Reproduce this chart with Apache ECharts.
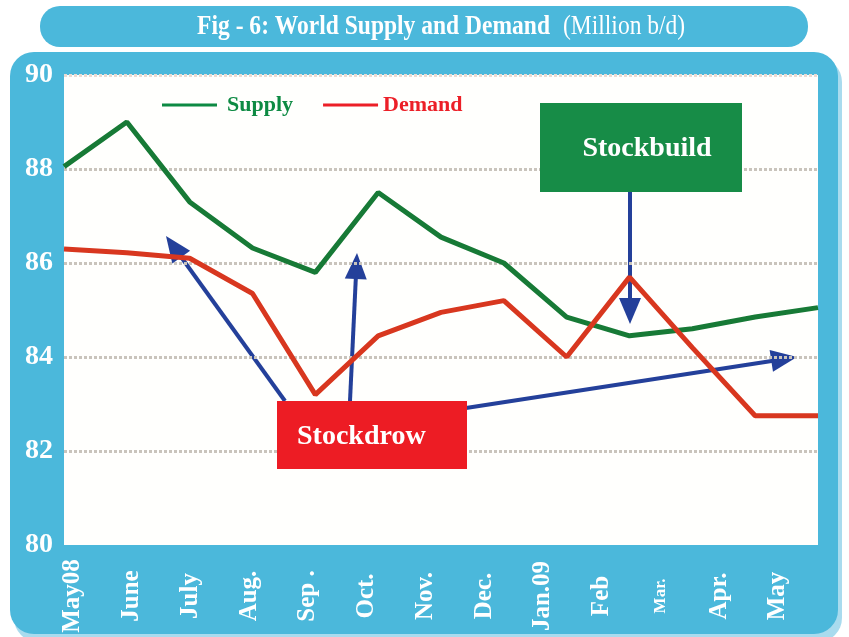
<!DOCTYPE html>
<html>
<head>
<meta charset="utf-8">
<script src="https://cdn.jsdelivr.net/npm/echarts@6/dist/echarts.min.js"></script>
<style>
body { margin: 0; background: #fff; }
#main { width: 849px; height: 637px; }
</style>
</head>
<body>
<div id="main"></div>
<script>
// month labels, values in million b/d
var months = ['May08', 'June', 'July', 'Aug.', 'Sep .', 'Oct.', 'Nov.', 'Dec.', 'Jan.09', 'Feb', 'Mar.', 'Apr.', 'May'];
var supply = [88.05, 89.0, 87.3, 86.32, 85.8, 87.5, 86.55, 86.0, 84.85, 84.45, 84.6, 84.85, 85.05];
var demand = [86.3, 86.22, 86.1, 85.35, 83.2, 84.45, 84.95, 85.2, 84.0, 85.7, 84.2, 82.75, 82.75];

var blue = '#4bb8db';
var arrowBlue = '#24409a';
var serif = '"Liberation Serif", "DejaVu Serif", serif';

function arrow(x1, y1, x2, y2) {
    var dx = x2 - x1, dy = y2 - y1;
    var len = Math.sqrt(dx * dx + dy * dy);
    var ux = dx / len, uy = dy / len;
    var hl = 26, hw = 11;
    var bx = x2 - ux * hl, by = y2 - uy * hl;
    return {
        type: 'group',
        z: 49,
        children: [{
            type: 'line',
            shape: { x1: x1, y1: y1, x2: bx + ux * 2, y2: by + uy * 2 },
            style: { stroke: arrowBlue, lineWidth: 4 }
        }, {
            type: 'polygon',
            shape: { points: [[x2, y2], [bx - uy * hw, by + ux * hw], [bx + uy * hw, by - ux * hw]] },
            style: { fill: arrowBlue }
        }]
    };
}

var chart = echarts.init(document.getElementById('main'));
var option = {
    backgroundColor: '#fff',
    animation: false,
    graphic: [
        // frame and title pill
        { type: 'rect', z: -10, shape: { x: 14, y: 58, width: 828, height: 584, r: 24 }, style: { fill: '#a9dbee' } },
        { type: 'rect', z: -9, shape: { x: 10, y: 52, width: 828, height: 582, r: 24 }, style: { fill: blue } },
        { type: 'rect', z: -9, shape: { x: 40, y: 6, width: 768, height: 41, r: 20 }, style: { fill: blue } },
        { type: 'text', x: 550, y: 27, scaleX: 0.84, style: { text: 'Fig - 6: World Supply and Demand', fill: '#fff', font: 'bold 28px ' + serif, align: 'right', verticalAlign: 'middle' } },
        { type: 'text', x: 563, y: 27, scaleX: 0.84, style: { text: '(Million b/d)', fill: '#fff', font: '28px ' + serif, align: 'left', verticalAlign: 'middle' } },
        // annotation boxes
        { type: 'rect', z: 50, shape: { x: 540, y: 103, width: 202, height: 89 }, style: { fill: '#178c47' } },
        { type: 'text', z: 51, x: 647, y: 149, style: { text: 'Stockbuild', fill: '#fff', font: 'bold 28px ' + serif, align: 'center', verticalAlign: 'middle' } },
        { type: 'rect', z: 50, shape: { x: 277, y: 401, width: 190, height: 68 }, style: { fill: '#ed1c24' } },
        { type: 'text', z: 51, x: 297, y: 437, style: { text: 'Stockdrow', fill: '#fff', font: 'bold 28px ' + serif, align: 'left', verticalAlign: 'middle' } },
        arrow(285, 401, 166, 236),
        arrow(350, 401, 357, 253),
        arrow(466, 408, 797, 357),
        arrow(630, 191, 630, 324)
    ],
    legend: {
        left: 157,
        top: 89,
        icon: 'rect',
        itemWidth: 55,
        itemHeight: 3,
        itemGap: 30,
        textStyle: { fontFamily: serif, fontWeight: 'bold', fontSize: 22 },
        data: [
            { name: 'Supply', itemStyle: { color: '#0d8a43' }, textStyle: { color: '#0d8a43', padding: [0, 0, 0, 5] } },
            { name: 'Demand', itemStyle: { color: '#ec1f27' }, textStyle: { color: '#ec1f27' } }
        ]
    },
    grid: [
        { left: 64, right: 31, top: 75, bottom: 92, show: true, backgroundColor: '#fffffd', borderWidth: 0 },
        { left: 73, right: 71, top: 75, bottom: 92 }
    ],
    xAxis: [{
        type: 'category',
        gridIndex: 0,
        data: months,
        boundaryGap: false,
        axisLine: { show: false },
        axisTick: { show: false },
        axisLabel: { show: false }
    }, {
        type: 'category',
        gridIndex: 1,
        data: months,
        boundaryGap: false,
        axisLine: { show: false },
        axisTick: { show: false },
        axisLabel: {
            rotate: 90,
            margin: 51,
            align: 'center',
            verticalAlign: 'middle',
            color: '#fff',
            fontFamily: serif,
            fontWeight: 'bold',
            fontSize: 25,
            interval: 0,
            formatter: function (v) { return v === 'Mar.' ? '{s|' + v + '}' : v; },
            rich: { s: { fontSize: 17, fontWeight: 'bold', fontFamily: serif, color: '#fff' } }
        }
    }],
    yAxis: [{
        type: 'value',
        gridIndex: 0,
        min: 80,
        max: 90,
        interval: 2,
        axisLine: { show: false },
        axisTick: { show: false },
        axisLabel: { color: '#fff', fontFamily: serif, fontWeight: 'bold', fontSize: 28, margin: 11 },
        splitLine: {
            lineStyle: {
                color: ['rgba(0,0,0,0)', '#c9c4bc', '#c9c4bc', '#c9c4bc', '#c9c4bc', '#eadbd3'],
                width: 3,
                type: [3, 2]
            }
        }
    }, {
        type: 'value',
        gridIndex: 1,
        min: 80,
        max: 90,
        show: false
    }],
    series: [{
        name: 'Supply',
        type: 'line',
        data: supply,
        symbol: 'none',
        color: '#177a36',
        lineStyle: { width: 5, color: '#177a36' }
    }, {
        name: 'Demand',
        type: 'line',
        data: demand,
        symbol: 'none',
        color: '#d8371f',
        lineStyle: { width: 5, color: '#d8371f' }
    }]
};
chart.setOption(option);
</script>
</body>
</html>
